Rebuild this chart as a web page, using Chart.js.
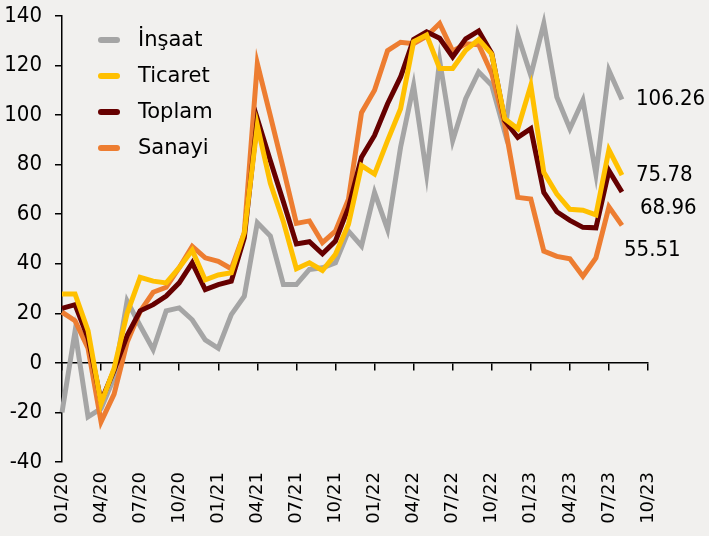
<!DOCTYPE html>
<html>
<head>
<meta charset="utf-8">
<script src="https://cdn.jsdelivr.net/npm/chart.js@4.4.0/dist/chart.umd.min.js"></script>
<style>
  html, body { margin: 0; padding: 0; background: #f1f0ee; }
  #wrap { width: 709px; height: 536px; }
</style>
</head>
<body>
<div id="wrap"><canvas id="chart" width="709" height="536"></canvas></div>
<script>
// Monthly categories, 01/20 .. 10/23 (data runs to 08/23)
const months = [
    '01/20', '02/20', '03/20', '04/20', '05/20', '06/20', '07/20', '08/20', '09/20', '10/20', '11/20', '12/20',
    '01/21', '02/21', '03/21', '04/21', '05/21', '06/21', '07/21', '08/21', '09/21', '10/21', '11/21', '12/21',
    '01/22', '02/22', '03/22', '04/22', '05/22', '06/22', '07/22', '08/22', '09/22', '10/22', '11/22', '12/22',
    '01/23', '02/23', '03/23', '04/23', '05/23', '06/23', '07/23', '08/23', '09/23', '10/23'
];

const insaat = [-20, 12.7, -21.8, -18.4, -6, 25, 15, 5.4, 21, 22.2, 17.4, 9.3, 5.9, 19.5, 26.9, 56.6, 51.2, 31.6, 31.6, 37.7,
    38.4, 40.4, 53.2, 47.2, 68.8, 53.9, 87, 112, 76.2, 122, 89.7, 106.6, 117.4, 112, 93.1, 132.3, 116, 137, 107.3, 94.5,
    106, 76.2, 118, 106.26];
const ticaret = [27.8, 27.8, 13, -16.5, -2.2, 20, 34.5, 33, 32.3, 38.4, 45.5, 33.5, 35.5, 36.4, 52.5, 95.8, 72.5, 57, 38, 40.4,
    37.3, 43.8, 56, 79.6, 76.2, 89.7, 102.6, 129.6, 132.3, 118.8, 118.8, 126.2, 130.5, 124.6, 98.5, 94.5, 112, 76.9, 68.1, 62,
    61.6, 59.7, 86, 75.78];
const toplam = [22, 23.5, 10, -15.5, -3, 11, 21, 23.5, 27, 32.3, 40.4, 29.6, 31.6, 33, 50.5, 98.5, 81.6, 65, 48, 48.9,
    44, 49.2, 62.7, 83, 91.8, 104.6, 115.4, 130.5, 133.6, 131, 123.5, 130.8, 134, 124.9, 97.8, 91, 94.5, 68.8, 61, 57.5,
    54.7, 54.5, 77.6, 68.96];
const sanayi = [20.5, 17, 5.9, -23.8, -12.6, 8.3, 20.8, 28.5, 30.5, 38.4, 47, 42.4, 41, 38, 52.5, 120.8, 99.7, 78.3, 56.3, 57.3,
    48.5, 53.2, 66.1, 101, 110, 126, 129.4, 128.8, 131.8, 137, 125.8, 128.8, 128.4, 116.8, 96.2, 66.8, 66.1, 45.1, 43, 42,
    35, 42.4, 63, 55.51];

const seriesNames = ['İnşaat', 'Ticaret', 'Toplam', 'Sanayi'];
const seriesData = [insaat, ticaret, toplam, sanayi];
const seriesColors = ['#a5a5a5', '#ffc000', '#660000', '#ed7d31'];
// paint order: lower number is drawn on top
const seriesOrder = [3, 0, 1, 2];

// y axis ticks
const yMin = -40;
const yMax = 140;
const yStep = 20;

// where the last-value labels sit relative to the last point
const endLabelOffsets = [[14, 0], [14, 0], [18, 16], [2, 25]];

// Legend drawn inside the plot, top left
const innerLegend = {
    id: 'innerLegend',
    afterDraw(chart) {
        const ctx = chart.ctx;
        const area = chart.chartArea;
        ctx.save();
        ctx.font = '21px "DejaVu Sans"';
        ctx.textBaseline = 'middle';
        ctx.textAlign = 'left';
        chart.data.datasets.forEach((ds, i) => {
            const y = area.top + 24 + i * 36;
            ctx.strokeStyle = ds.borderColor;
            ctx.lineWidth = 6;
            ctx.lineCap = 'round';
            ctx.beginPath();
            ctx.moveTo(area.left + 39, y);
            ctx.lineTo(area.left + 55, y);
            ctx.stroke();
            ctx.fillStyle = '#000';
            ctx.fillText(ds.label, area.left + 76, y + 1);
        });
        ctx.restore();
    }
};

// Last value printed at the end of each line
const endLabels = {
    id: 'endLabels',
    afterDatasetsDraw(chart) {
        const ctx = chart.ctx;
        ctx.save();
        ctx.font = '22px "DejaVu Sans Condensed"';
        ctx.fillStyle = '#000';
        ctx.textBaseline = 'middle';
        ctx.textAlign = 'left';
        chart.data.datasets.forEach((ds, i) => {
            const meta = chart.getDatasetMeta(i);
            const pt = meta.data[meta.data.length - 1];
            const v = ds.data[ds.data.length - 1];
            const off = endLabelOffsets[i];
            ctx.fillText(v.toFixed(2), pt.x + off[0], pt.y + off[1]);
        });
        ctx.restore();
    }
};

const ctx = document.getElementById('chart').getContext('2d');
new Chart(ctx, {
    type: 'line',
    data: {
        labels: months,
        datasets: seriesNames.map((name, i) => ({
            label: name,
            data: seriesData[i],
            order: seriesOrder[i],
            borderColor: seriesColors[i],
            backgroundColor: seriesColors[i],
            borderWidth: 5,
            pointRadius: 0,
            tension: 0,
            fill: false,
            clip: false,
        })),
    },
    options: {
        responsive: false,
        animation: false,
        devicePixelRatio: 1,
        layout: { padding: { top: 16, right: 61, left: 0, bottom: 0 } },
        plugins: {
            legend: { display: false },
            tooltip: { enabled: false },
        },
        scales: {
            x: {
                type: 'category',
                position: { y: 0 },
                ticks: { display: false, autoSkip: false },
                grid: {
                    drawOnChartArea: false,
                    tickLength: 7,
                    lineWidth: 1.5,
                    color: (c) => (c.index % 3 === 0 ? '#000' : 'rgba(0,0,0,0)'),
                },
                border: { color: '#000', width: 1.5 },
            },
            xb: {
                type: 'category',
                position: 'bottom',
                ticks: {
                    autoSkip: false,
                    minRotation: 90,
                    maxRotation: 90,
                    padding: 10,
                    color: '#000',
                    font: { family: 'DejaVu Sans', size: 18 },
                    callback: function (v, i) {
                        return i % 3 === 0 ? this.getLabelForValue(v) : '';
                    },
                },
                grid: { display: false, drawTicks: false },
                border: { display: false },
                afterFit: (scale) => { scale.height = 74; },
            },
            y: {
                min: yMin,
                max: yMax,
                ticks: {
                    stepSize: yStep,
                    color: '#000',
                    padding: 13,
                    font: { family: 'DejaVu Sans Condensed', size: 22 },
                },
                grid: { drawOnChartArea: false, color: '#000', lineWidth: 1.5, tickLength: 7 },
                border: { color: '#000', width: 1.5 },
                afterFit: (scale) => {
                    scale.width = 62;
                    scale.paddingTop = 0;
                },
            },
        },
    },
    plugins: [innerLegend, endLabels],
});
</script>
</body>
</html>
